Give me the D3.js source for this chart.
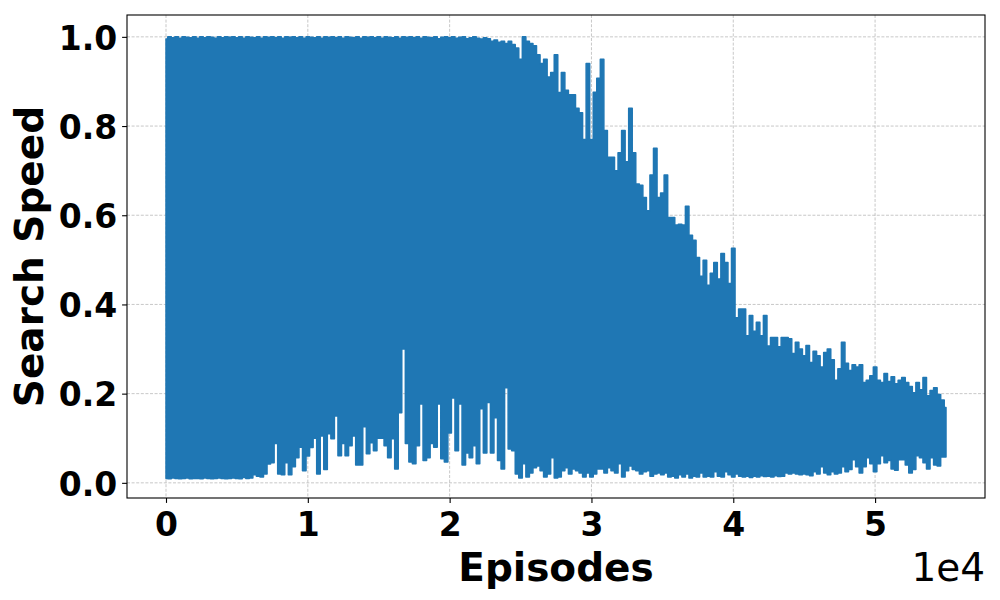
<!DOCTYPE html>
<html><head><meta charset="utf-8">
<script src="https://cdn.jsdelivr.net/npm/d3@7"></script>
<style>body{margin:0;background:#fff}svg{display:block}</style>
</head><body>
<svg id="chart" width="1000" height="600"></svg>
<script>
// Episode sampling step of the envelope
const episodeStep = 250;
// Upper envelope (peak of the oscillating Search Speed line) every 250 episodes, 0..55000
const upperEnvelope = [
0.995,1.0,0.998,1.0,0.997,1.0,0.999,0.998,1.0,0.997,
1.0,0.998,1.0,0.999,0.997,1.0,0.998,1.0,0.999,1.0,
0.998,1.0,0.997,1.0,0.999,0.998,1.0,0.997,1.0,0.999,
1.0,0.998,1.0,0.997,1.0,0.999,1.0,0.998,1.0,0.997,
1.0,0.999,0.998,1.0,0.997,1.0,0.999,1.0,0.998,1.0,
0.997,1.0,0.999,0.998,1.0,0.997,1.0,0.999,1.0,0.998,
1.0,0.997,1.0,0.999,0.998,1.0,0.997,1.0,0.999,1.0,
0.998,1.0,0.997,1.0,0.999,0.998,1.0,0.996,0.999,1.0,
0.998,1.0,0.997,0.999,1.0,0.996,0.998,1.0,0.997,0.995,
0.998,0.996,0.99,0.993,0.988,0.99,0.985,0.99,0.983,0.975,
0.95,1.0,0.99,0.985,0.98,0.96,0.94,0.95,0.91,0.92,
0.96,0.875,0.92,0.88,0.87,0.87,0.84,0.83,0.77,0.94,
0.77,0.876,0.907,0.95,0.79,0.73,0.73,0.70,0.74,0.79,
0.72,0.84,0.74,0.67,0.667,0.64,0.61,0.69,0.75,0.64,
0.65,0.69,0.595,0.595,0.578,0.58,0.578,0.62,0.555,0.544,
0.505,0.463,0.499,0.443,0.47,0.494,0.457,0.514,0.494,0.447,
0.526,0.37,0.39,0.39,0.33,0.375,0.34,0.36,0.33,0.375,
0.307,0.326,0.326,0.305,0.326,0.326,0.323,0.29,0.315,0.30,
0.285,0.308,0.27,0.295,0.285,0.26,0.292,0.30,0.276,0.23,
0.256,0.315,0.268,0.252,0.265,0.26,0.265,0.225,0.23,0.24,
0.26,0.23,0.225,0.245,0.227,0.238,0.222,0.23,0.236,0.225,
0.216,0.202,0.225,0.209,0.236,0.195,0.207,0.213,0.198,0.186,
0.169];
// Lower envelope (trough of the oscillating line) every 250 episodes
const lowerEnvelope = [
0.01,0.009,0.011,0.01,0.009,0.01,0.011,0.009,0.01,0.01,
0.009,0.011,0.01,0.009,0.01,0.011,0.01,0.009,0.01,0.011,
0.01,0.009,0.012,0.01,0.011,0.018,0.015,0.013,0.02,0.042,
0.045,0.088,0.02,0.018,0.045,0.018,0.036,0.056,0.08,0.027,
0.06,0.079,0.10,0.02,0.105,0.03,0.11,0.099,0.15,0.061,
0.088,0.061,0.083,0.105,0.04,0.04,0.126,0.065,0.09,0.072,
0.10,0.10,0.083,0.056,0.099,0.031,0.157,0.30,0.088,0.047,
0.043,0.083,0.177,0.05,0.056,0.088,0.08,0.177,0.054,0.047,
0.112,0.19,0.072,0.177,0.04,0.067,0.056,0.083,0.043,0.166,
0.067,0.18,0.067,0.146,0.05,0.031,0.213,0.076,0.072,0.02,
0.011,0.043,0.013,0.022,0.034,0.038,0.027,0.013,0.02,0.056,
0.011,0.013,0.027,0.034,0.02,0.031,0.027,0.022,0.013,0.022,
0.013,0.02,0.031,0.031,0.022,0.034,0.027,0.022,0.043,0.013,
0.027,0.038,0.03,0.027,0.02,0.025,0.027,0.015,0.02,0.022,
0.018,0.022,0.013,0.015,0.011,0.018,0.013,0.02,0.011,0.015,
0.013,0.022,0.013,0.015,0.013,0.025,0.015,0.013,0.025,0.018,
0.013,0.02,0.015,0.013,0.015,0.012,0.015,0.013,0.016,0.014,
0.015,0.013,0.016,0.014,0.015,0.022,0.02,0.022,0.02,0.018,
0.02,0.018,0.016,0.025,0.02,0.036,0.022,0.018,0.025,0.02,
0.022,0.036,0.025,0.03,0.052,0.036,0.022,0.036,0.056,0.043,
0.025,0.043,0.061,0.045,0.05,0.031,0.028,0.052,0.052,0.04,
0.022,0.03,0.061,0.056,0.045,0.031,0.056,0.04,0.038,0.058,
0.058];
const xTickValues = [0, 10000, 20000, 30000, 40000, 50000];
const xTickLabels = ["0", "1", "2", "3", "4", "5"];
const yTickValues = [0, 0.2, 0.4, 0.6, 0.8, 1.0];
const yTickLabels = ["0.0", "0.2", "0.4", "0.6", "0.8", "1.0"];
const xLabel = "Episodes";
const yLabel = "Search Speed";
const offsetLabel = "1e4";

const data = upperEnvelope.map((hi, i) => ({ ep: i * episodeStep, hi: hi, lo: lowerEnvelope[i] }));

const L = 127, R = 985, T = 15, B = 498;
const svg = d3.select("#chart");
const x = d3.scaleLinear().domain([-2750, 57750]).range([L, R]);
const y = d3.scaleLinear().domain([-0.034, 1.049]).range([B, T]);
const font = "'DejaVu Sans', sans-serif";

// grid
const grid = svg.append("g").attr("stroke", "#b0b0b0").attr("stroke-width", 0.7).attr("stroke-dasharray", "3,1.6");
grid.selectAll("line.gx").data(xTickValues).join("line")
  .attr("x1", d => x(d)).attr("x2", d => x(d)).attr("y1", T).attr("y2", B);
grid.selectAll("line.gy").data(yTickValues).join("line")
  .attr("y1", d => y(d)).attr("y2", d => y(d)).attr("x1", L).attr("x2", R);

// series (dense oscillating line rendered via its envelope)
const area = d3.area().x(d => x(d.ep)).y0(d => y(d.lo)).y1(d => y(d.hi)).curve(d3.curveStep);
svg.append("path").datum(data).attr("d", area)
  .attr("fill", "#1f77b4").attr("stroke", "#1f77b4").attr("stroke-width", 1.5).attr("stroke-linejoin", "round");

// axes
const xAxis = d3.axisBottom(x).tickValues(xTickValues).tickFormat((d, i) => xTickLabels[i]).tickSize(4.9).tickPadding(4.9);
const gx = svg.append("g").attr("transform", `translate(0,${B})`).call(xAxis);
const yAxis = d3.axisLeft(y).tickValues(yTickValues).tickFormat((d, i) => yTickLabels[i]).tickSize(4.9).tickPadding(4.9);
const gy = svg.append("g").attr("transform", `translate(${L},0)`).call(yAxis);
[gx, gy].forEach(g => {
  g.select(".domain").remove();
  g.selectAll(".tick line").attr("stroke", "#000").attr("stroke-width", 1.1);
  g.selectAll(".tick text").attr("font-family", font).attr("font-weight", "bold").attr("font-size", 33).attr("fill", "#000");
});
gx.selectAll(".tick text").attr("y", 38).attr("dy", 0);
gy.selectAll(".tick text").attr("dy", "0.37em");

// frame
svg.append("rect").attr("x", L).attr("y", T).attr("width", R - L).attr("height", B - T)
  .attr("fill", "none").attr("stroke", "#000").attr("stroke-width", 1.1);

// labels
svg.append("text").attr("x", (L + R) / 2).attr("y", 581).attr("text-anchor", "middle")
  .attr("font-family", font).attr("font-weight", "bold").attr("font-size", 39).text(xLabel);
svg.append("text").attr("x", R).attr("y", 581).attr("text-anchor", "end")
  .attr("font-family", font).attr("font-size", 39).text(offsetLabel);
svg.append("text").attr("transform", `translate(43,${(T + B) / 2}) rotate(-90)`).attr("text-anchor", "middle")
  .attr("font-family", font).attr("font-weight", "bold").attr("font-size", 39).text(yLabel);
</script>
</body></html>
